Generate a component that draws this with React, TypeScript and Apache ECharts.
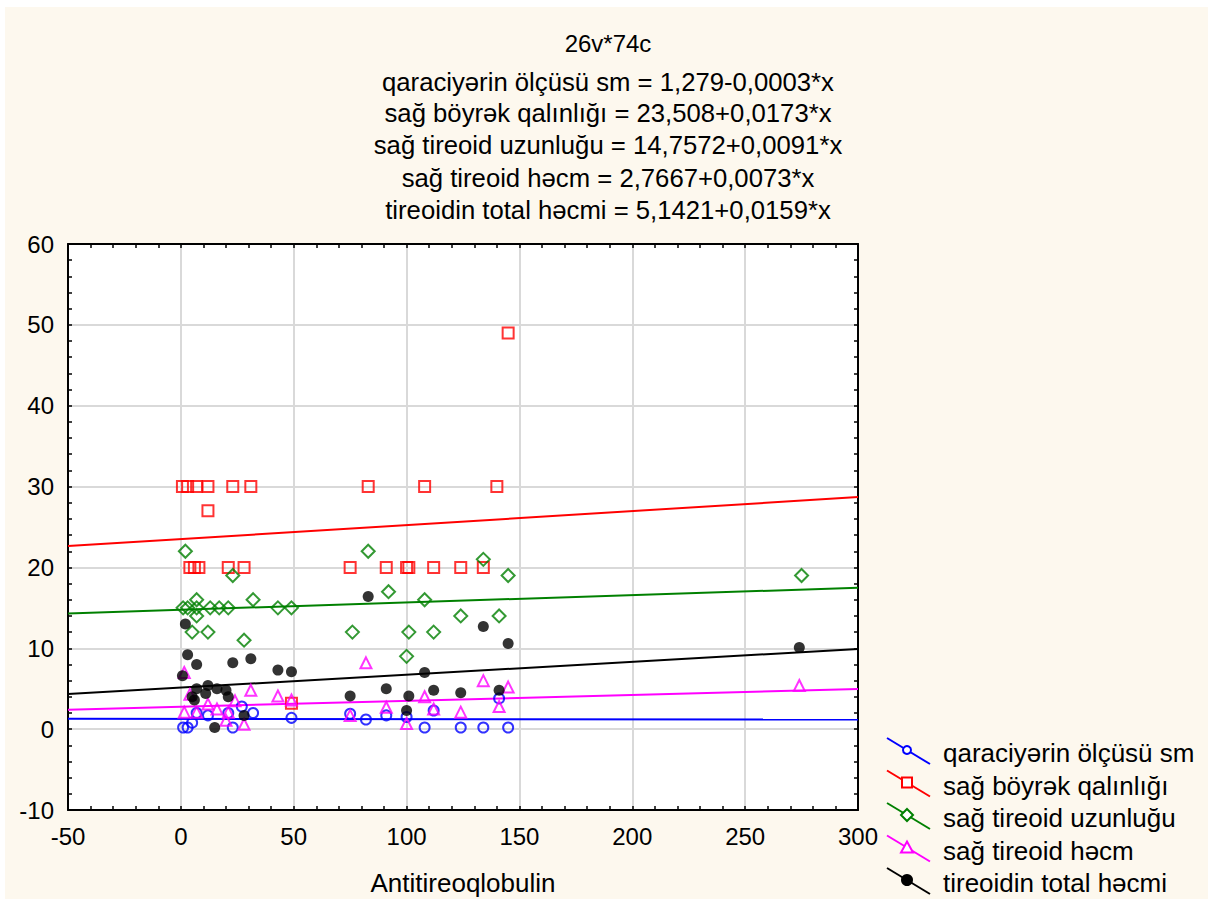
import React, { useEffect, useRef } from "react";
import * as echarts from "echarts";

const titleLines = [
  "26v*74c",
  "qaraciyərin ölçüsü sm = 1,279-0,0003*x",
  "sağ böyrək qalınlığı = 23,508+0,0173*x",
  "sağ tireoid uzunluğu = 14,7572+0,0091*x",
  "sağ tireoid həcm = 2,7667+0,0073*x",
  "tireoidin total həcmi = 5,1421+0,0159*x",
];

const seriesNames = [
  "qaraciyərin ölçüsü sm",
  "sağ böyrək qalınlığı",
  "sağ tireoid uzunluğu",
  "sağ tireoid həcm",
  "tireoidin total həcmi",
];

const colors = ["#0000ff", "#ff0000", "#008000", "#ff00ff", "#000000"];
const intercepts = [1.279, 23.508, 14.7572, 2.7667, 5.1421];
const slopes = [-0.0003, 0.0173, 0.0091, 0.0073, 0.0159];

const xTicks = [-50, 0, 50, 100, 150, 200, 250, 300];
const yTicks = [-10, 0, 10, 20, 30, 40, 50, 60];
const axisName = "Antitireoqlobulin";

const qaraciyer: number[][] = [
  [1, 0.2], [3, 0.2], [5, 0.8], [7, 2.0], [12, 1.7], [21, 2.0], [23, 0.2],
  [27, 2.8], [32, 2.0], [49, 1.4], [75, 1.9], [82, 1.2], [91, 1.7], [100, 1.5],
  [112, 2.3], [108, 0.2], [124, 0.2], [134, 0.2], [145, 0.2], [141, 3.8],
];

const boyrek: number[][] = [
  [0.7, 30], [3, 30], [7, 30], [12, 30], [23, 30], [31, 30], [83, 30], [108, 30], [140, 30],
  [12, 27],
  [4, 20], [6, 20], [8, 20], [21, 20], [28, 20], [75, 20], [91, 20], [100, 20], [101, 20],
  [112, 20], [124, 20], [134, 20],
  [145, 49], [49, 3.2],
];

const uzunluq: number[][] = [
  [2, 22], [23, 19], [1, 15], [3, 15], [7, 15], [13, 15], [17, 15], [21, 15], [43, 15],
  [49, 15], [7, 16], [7, 14], [5, 12], [12, 12], [28, 11], [32, 16], [83, 22], [134, 21],
  [145, 19], [92, 17], [108, 16], [76, 12], [101, 12], [112, 12], [124, 14], [141, 14],
  [100, 9], [275, 19],
];

const hecm: number[][] = [
  [1.5, 7.0], [31, 4.8], [43, 4.1], [4, 4.3], [1.5, 2.1], [12, 3.1], [16, 2.5], [21, 2.1],
  [28, 0.6], [24, 3.5], [49, 3.6], [7, 2.1], [20, 1.1],
  [82, 8.2], [134, 6.0], [145, 5.2], [108, 4.0], [91, 2.7], [75, 1.7], [100, 0.7],
  [124, 2.1], [141, 2.8], [112, 2.5], [274, 5.4],
];

const total: number[][] = [
  [2, 13], [3, 9.2], [7, 8.0], [23, 8.2], [31, 8.7], [43, 7.3], [49, 7.1], [0.7, 6.6],
  [7, 5.0], [12, 5.4], [16, 5.0], [20, 4.8], [21, 4.0], [5, 4.0], [6, 3.6], [11, 4.4],
  [15, 0.2], [28, 1.7],
  [83, 16.4], [134, 12.7], [145, 10.6], [108, 7.0], [75, 4.1], [91, 5.0], [101, 4.1],
  [112, 4.8], [124, 4.5], [141, 4.8], [100, 2.3], [274, 10.1],
];

const seriesData = [qaraciyer, boyrek, uzunluq, hecm, total];
const symbols = ["circle", "rect", "diamond", "triangle", "circle"];
const symbolSizes = [10, 11, 13, 11, 11];
const hollow = [true, true, true, true, false];

const FONT = "'Liberation Sans', Arial, sans-serif";

export default function App() {
  const ref = useRef<HTMLDivElement>(null);
  useEffect(() => {
    document.body.style.margin = "0";
    if (!ref.current) return;
    const chart = echarts.init(ref.current, undefined, { renderer: "svg" });
    const xMin = -50;
    const xMax = 300;
    const grid = { left: 68, top: 244, width: 790, height: 566 };

    const scatterSeries = seriesData.map((d, i) => ({
      type: "scatter",
      name: seriesNames[i],
      data: d,
      symbol: symbols[i],
      symbolSize: symbolSizes[i],
      z: 5,
      itemStyle: hollow[i]
        ? { color: "rgba(255,255,255,0)", borderColor: colors[i], borderWidth: 2 }
        : { color: colors[i] },
    }));

    const lineSeries = intercepts.map((a, i) => ({
      type: "line",
      name: seriesNames[i] + " fit",
      data: [
        [xMin, a + slopes[i] * xMin],
        [xMax, a + slopes[i] * xMax],
      ],
      showSymbol: false,
      symbol: "none",
      lineStyle: { color: colors[i], width: 2 },
      z: 4,
      silent: true,
    }));

    const axisCommon = {
      type: "value",
      axisLine: { show: true, onZero: false, lineStyle: { color: "#000", width: 2 } },
      axisTick: { show: true, inside: true, length: 4, lineStyle: { color: "#000", width: 1.5 } },
      minorTick: { show: true, splitNumber: 5, length: 4, lineStyle: { color: "#000", width: 1.5 } },
    };

    const legendEls: any[] = [];
    for (let i = 0; i < 5; i++) {
      const yc = 753 + 32.5 * i;
      const mx = 907;
      const my = yc - 3;
      legendEls.push({
        type: "line",
        shape: { x1: 887, y1: yc - 15, x2: 930, y2: yc + 11 },
        style: { stroke: colors[i], lineWidth: 2 },
      });
      const st = { stroke: colors[i], lineWidth: 2, fill: hollow[i] ? "#fff" : colors[i] };
      if (i === 0) legendEls.push({ type: "circle", shape: { cx: mx, cy: my, r: 4 }, style: st });
      if (i === 1) legendEls.push({ type: "rect", shape: { x: mx - 5, y: my - 5, width: 10, height: 10 }, style: st });
      if (i === 2)
        legendEls.push({
          type: "polygon",
          shape: { points: [[mx, my - 6], [mx + 6, my], [mx, my + 6], [mx - 6, my]] },
          style: st,
        });
      if (i === 3)
        legendEls.push({
          type: "polygon",
          shape: { points: [[mx, my - 6], [mx + 6, my + 5], [mx - 6, my + 5]] },
          style: st,
        });
      if (i === 4) legendEls.push({ type: "circle", shape: { cx: mx, cy: my, r: 5 }, style: st });
      legendEls.push({
        type: "text",
        x: 943,
        y: yc,
        style: {
          text: seriesNames[i],
          font: `26px ${FONT}`,
          fill: "#000",
          textVerticalAlign: "middle",
          verticalAlign: "middle",
        },
      });
    }

    const titleYs = [43, 82, 113, 145, 178, 210];
    const titleSizes = [24, 25.7, 25.7, 25.7, 25.7, 25.7];
    const titleEls = titleLines.map((t, i) => ({
      type: "text",
      x: 608,
      y: titleYs[i],
      style: {
        text: t,
        font: `${titleSizes[i]}px ${FONT}`,
        fill: "#000",
        align: "center",
        textAlign: "center",
        verticalAlign: "middle",
        textVerticalAlign: "middle",
      },
    }));

    chart.setOption({
      animation: false,
      backgroundColor: "#ffffff",
      textStyle: { fontFamily: FONT },
      grid: { ...grid, show: true, backgroundColor: "#ffffff", borderWidth: 0 },
      xAxis: [
        {
          ...axisCommon,
          min: xMin,
          max: xMax,
          interval: 50,
          position: "bottom",
          name: axisName,
          nameLocation: "middle",
          nameGap: 60,
          nameTextStyle: { fontSize: 26, color: "#000", fontFamily: FONT },
          axisLabel: {
            fontSize: 24,
            color: "#000",
            margin: 14,
            fontFamily: FONT,
            customValues: xTicks,
          },
          splitLine: { show: true, lineStyle: { color: "#d9d9d9", width: 2 } },
        },
        {
          ...axisCommon,
          min: xMin,
          max: xMax,
          interval: 50,
          position: "top",
          axisLabel: { show: false },
          splitLine: { show: false },
        },
      ],
      yAxis: [
        {
          ...axisCommon,
          min: -10,
          max: 60,
          interval: 10,
          position: "left",
          axisLabel: { fontSize: 24, color: "#000", margin: 14, fontFamily: FONT, customValues: yTicks },
          splitLine: { show: true, lineStyle: { color: "#d9d9d9", width: 2 } },
        },
        {
          ...axisCommon,
          min: -10,
          max: 60,
          interval: 10,
          position: "right",
          axisLabel: { show: false },
          splitLine: { show: false },
        },
      ],
      graphic: [
        {
          type: "rect",
          z: -100,
          silent: true,
          shape: { x: 5, y: 7, width: 1203, height: 892 },
          style: { fill: "#fdf8ee" },
        },
        ...titleEls,
        ...legendEls,
      ],
      series: [...lineSeries, ...scatterSeries],
    });
    return () => chart.dispose();
  }, []);
  return <div ref={ref} style={{ width: 1208, height: 908 }} />;
}
